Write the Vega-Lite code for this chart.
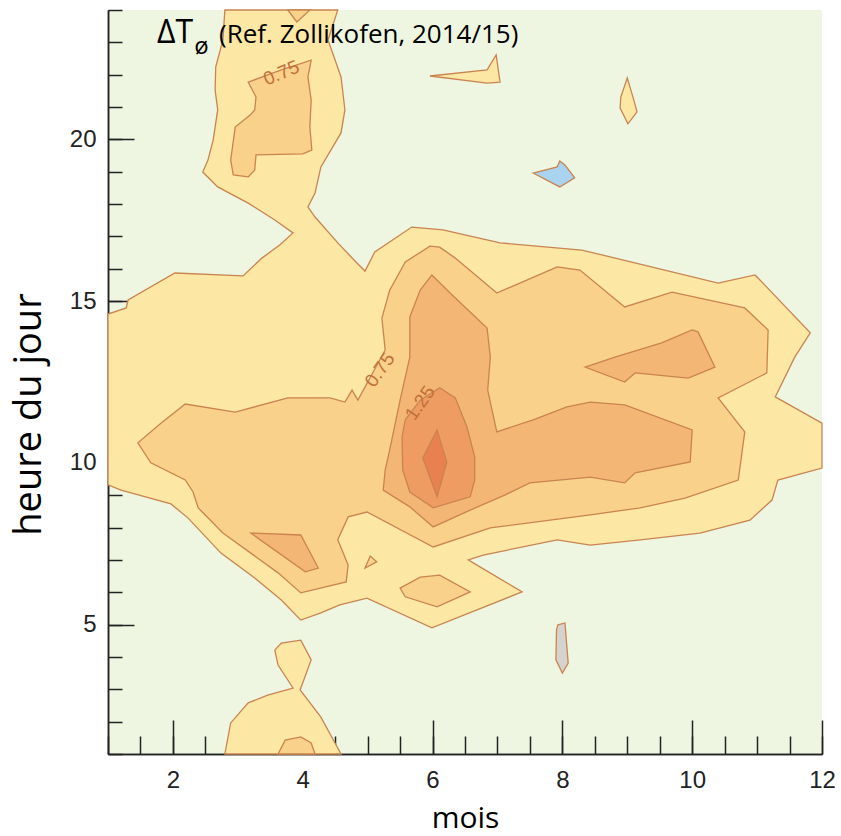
{
  "$schema": "https://vega.github.io/schema/vega-lite/v6.json",
  "width": 714,
  "height": 744,
  "autosize": {"type": "none"},
  "padding": {"left": 108, "top": 10, "right": 19, "bottom": 82},
  "background": "white",
  "config": {"view": {"fill": "#eef6e1", "stroke": null}},
  "resolve": {"axis": {"x": "independent", "y": "independent"}},
  "datasets": {
    "c": [
      {"p":"a1","lv":"a","i":0,"x":2.80,"y":24.0},
      {"p":"a1","lv":"a","i":1,"x":2.77,"y":23.07},
      {"p":"a1","lv":"a","i":2,"x":2.66,"y":22.24},
      {"p":"a1","lv":"a","i":3,"x":2.65,"y":21.53},
      {"p":"a1","lv":"a","i":4,"x":2.69,"y":20.91},
      {"p":"a1","lv":"a","i":5,"x":2.62,"y":19.98},
      {"p":"a1","lv":"a","i":6,"x":2.54,"y":19.36},
      {"p":"a1","lv":"a","i":7,"x":2.46,"y":18.99},
      {"p":"a1","lv":"a","i":8,"x":2.69,"y":18.53},
      {"p":"a1","lv":"a","i":9,"x":3.16,"y":18.03},
      {"p":"a1","lv":"a","i":10,"x":3.57,"y":17.51},
      {"p":"a1","lv":"a","i":11,"x":3.85,"y":17.11},
      {"p":"a1","lv":"a","i":12,"x":3.65,"y":16.74},
      {"p":"a1","lv":"a","i":13,"x":3.37,"y":16.33},
      {"p":"a1","lv":"a","i":14,"x":3.08,"y":15.78},
      {"p":"a1","lv":"a","i":15,"x":2.03,"y":15.87},
      {"p":"a1","lv":"a","i":16,"x":1.31,"y":15.04},
      {"p":"a1","lv":"a","i":17,"x":1.28,"y":14.79},
      {"p":"a1","lv":"a","i":18,"x":1.0,"y":14.60},
      {"p":"a1","lv":"a","i":19,"x":1.0,"y":9.32},
      {"p":"a1","lv":"a","i":20,"x":1.20,"y":9.16},
      {"p":"a1","lv":"a","i":21,"x":1.97,"y":8.73},
      {"p":"a1","lv":"a","i":22,"x":2.23,"y":8.30},
      {"p":"a1","lv":"a","i":23,"x":2.74,"y":7.21},
      {"p":"a1","lv":"a","i":24,"x":3.26,"y":6.44},
      {"p":"a1","lv":"a","i":25,"x":3.67,"y":5.76},
      {"p":"a1","lv":"a","i":26,"x":3.97,"y":5.14},
      {"p":"a1","lv":"a","i":27,"x":4.28,"y":5.36},
      {"p":"a1","lv":"a","i":28,"x":4.57,"y":5.61},
      {"p":"a1","lv":"a","i":29,"x":4.99,"y":5.82},
      {"p":"a1","lv":"a","i":30,"x":5.99,"y":4.90},
      {"p":"a1","lv":"a","i":31,"x":7.38,"y":6.01},
      {"p":"a1","lv":"a","i":32,"x":6.55,"y":7.00},
      {"p":"a1","lv":"a","i":33,"x":6.78,"y":7.15},
      {"p":"a1","lv":"a","i":34,"x":7.92,"y":7.62},
      {"p":"a1","lv":"a","i":35,"x":8.43,"y":7.46},
      {"p":"a1","lv":"a","i":36,"x":9.20,"y":7.62},
      {"p":"a1","lv":"a","i":37,"x":10.12,"y":7.83},
      {"p":"a1","lv":"a","i":38,"x":10.89,"y":8.23},
      {"p":"a1","lv":"a","i":39,"x":11.23,"y":8.85},
      {"p":"a1","lv":"a","i":40,"x":11.32,"y":9.47},
      {"p":"a1","lv":"a","i":41,"x":12.0,"y":9.84},
      {"p":"a1","lv":"a","i":42,"x":12.0,"y":11.23},
      {"p":"a1","lv":"a","i":43,"x":11.28,"y":12.04},
      {"p":"a1","lv":"a","i":44,"x":11.58,"y":13.27},
      {"p":"a1","lv":"a","i":45,"x":11.82,"y":14.02},
      {"p":"a1","lv":"a","i":46,"x":10.97,"y":15.81},
      {"p":"a1","lv":"a","i":47,"x":10.40,"y":15.56},
      {"p":"a1","lv":"a","i":48,"x":8.30,"y":16.58},
      {"p":"a1","lv":"a","i":49,"x":7.04,"y":16.80},
      {"p":"a1","lv":"a","i":50,"x":6.16,"y":17.20},
      {"p":"a1","lv":"a","i":51,"x":5.68,"y":17.29},
      {"p":"a1","lv":"a","i":52,"x":5.11,"y":16.52},
      {"p":"a1","lv":"a","i":53,"x":4.96,"y":15.93},
      {"p":"a1","lv":"a","i":54,"x":4.82,"y":16.21},
      {"p":"a1","lv":"a","i":55,"x":4.54,"y":16.80},
      {"p":"a1","lv":"a","i":56,"x":4.19,"y":17.60},
      {"p":"a1","lv":"a","i":57,"x":4.08,"y":17.91},
      {"p":"a1","lv":"a","i":58,"x":4.19,"y":18.34},
      {"p":"a1","lv":"a","i":59,"x":4.28,"y":19.15},
      {"p":"a1","lv":"a","i":60,"x":4.59,"y":20.20},
      {"p":"a1","lv":"a","i":61,"x":4.65,"y":20.91},
      {"p":"a1","lv":"a","i":62,"x":4.59,"y":21.93},
      {"p":"a1","lv":"a","i":63,"x":4.39,"y":23.07},
      {"p":"a1","lv":"a","i":64,"x":4.54,"y":24.0},
      {"p":"a2","lv":"a","i":0,"x":5.96,"y":21.96},
      {"p":"a2","lv":"a","i":1,"x":6.84,"y":22.15},
      {"p":"a2","lv":"a","i":2,"x":6.98,"y":22.61},
      {"p":"a2","lv":"a","i":3,"x":7.04,"y":21.77},
      {"p":"a2","lv":"a","i":4,"x":6.84,"y":21.74},
      {"p":"a3","lv":"a","i":0,"x":9.00,"y":21.90},
      {"p":"a3","lv":"a","i":1,"x":9.10,"y":21.22},
      {"p":"a3","lv":"a","i":2,"x":9.15,"y":20.85},
      {"p":"a3","lv":"a","i":3,"x":9.01,"y":20.48},
      {"p":"a3","lv":"a","i":4,"x":8.89,"y":20.97},
      {"p":"a3","lv":"a","i":5,"x":8.90,"y":21.31},
      {"p":"a4","lv":"a","i":0,"x":2.80,"y":1.0},
      {"p":"a4","lv":"a","i":1,"x":2.89,"y":1.96},
      {"p":"a4","lv":"a","i":2,"x":3.16,"y":2.58},
      {"p":"a4","lv":"a","i":3,"x":3.46,"y":2.82},
      {"p":"a4","lv":"a","i":4,"x":3.85,"y":3.04},
      {"p":"a4","lv":"a","i":5,"x":3.62,"y":3.75},
      {"p":"a4","lv":"a","i":6,"x":3.57,"y":4.21},
      {"p":"a4","lv":"a","i":7,"x":3.67,"y":4.43},
      {"p":"a4","lv":"a","i":8,"x":3.97,"y":4.52},
      {"p":"a4","lv":"a","i":9,"x":4.13,"y":3.91},
      {"p":"a4","lv":"a","i":10,"x":3.96,"y":2.98},
      {"p":"a4","lv":"a","i":11,"x":4.28,"y":2.14},
      {"p":"a4","lv":"a","i":12,"x":4.59,"y":1.0},
      {"p":"b1","lv":"b","i":0,"x":3.16,"y":21.77},
      {"p":"b1","lv":"b","i":1,"x":3.67,"y":22.15},
      {"p":"b1","lv":"b","i":2,"x":4.13,"y":22.45},
      {"p":"b1","lv":"b","i":3,"x":4.08,"y":21.93},
      {"p":"b1","lv":"b","i":4,"x":4.13,"y":21.22},
      {"p":"b1","lv":"b","i":5,"x":4.11,"y":20.38},
      {"p":"b1","lv":"b","i":6,"x":4.14,"y":19.67},
      {"p":"b1","lv":"b","i":7,"x":4.00,"y":19.55},
      {"p":"b1","lv":"b","i":8,"x":3.28,"y":19.52},
      {"p":"b1","lv":"b","i":9,"x":3.26,"y":19.05},
      {"p":"b1","lv":"b","i":10,"x":3.16,"y":18.84},
      {"p":"b1","lv":"b","i":11,"x":2.93,"y":18.90},
      {"p":"b1","lv":"b","i":12,"x":2.89,"y":19.36},
      {"p":"b1","lv":"b","i":13,"x":2.96,"y":20.38},
      {"p":"b1","lv":"b","i":14,"x":3.19,"y":20.75},
      {"p":"b1","lv":"b","i":15,"x":3.26,"y":20.91},
      {"p":"b1","lv":"b","i":16,"x":3.28,"y":21.31},
      {"p":"b2","lv":"b","i":0,"x":3.77,"y":24.0},
      {"p":"b2","lv":"b","i":1,"x":3.91,"y":23.63},
      {"p":"b2","lv":"b","i":2,"x":4.11,"y":24.0},
      {"p":"b3","lv":"b","i":0,"x":3.77,"y":12.01},
      {"p":"b3","lv":"b","i":1,"x":4.42,"y":12.01},
      {"p":"b3","lv":"b","i":2,"x":4.65,"y":11.88},
      {"p":"b3","lv":"b","i":3,"x":4.76,"y":12.25},
      {"p":"b3","lv":"b","i":4,"x":4.85,"y":11.94},
      {"p":"b3","lv":"b","i":5,"x":5.27,"y":13.49},
      {"p":"b3","lv":"b","i":6,"x":5.22,"y":14.48},
      {"p":"b3","lv":"b","i":7,"x":5.34,"y":15.34},
      {"p":"b3","lv":"b","i":8,"x":5.58,"y":16.21},
      {"p":"b3","lv":"b","i":9,"x":5.96,"y":16.70},
      {"p":"b3","lv":"b","i":10,"x":6.11,"y":16.67},
      {"p":"b3","lv":"b","i":11,"x":6.35,"y":16.33},
      {"p":"b3","lv":"b","i":12,"x":6.99,"y":15.25},
      {"p":"b3","lv":"b","i":13,"x":7.92,"y":16.06},
      {"p":"b3","lv":"b","i":14,"x":8.27,"y":15.96},
      {"p":"b3","lv":"b","i":15,"x":8.96,"y":14.82},
      {"p":"b3","lv":"b","i":16,"x":9.69,"y":15.28},
      {"p":"b3","lv":"b","i":17,"x":10.81,"y":14.79},
      {"p":"b3","lv":"b","i":18,"x":11.17,"y":14.11},
      {"p":"b3","lv":"b","i":19,"x":11.15,"y":12.78},
      {"p":"b3","lv":"b","i":20,"x":10.40,"y":12.01},
      {"p":"b3","lv":"b","i":21,"x":10.81,"y":10.96},
      {"p":"b3","lv":"b","i":22,"x":10.71,"y":9.47},
      {"p":"b3","lv":"b","i":23,"x":9.89,"y":8.91},
      {"p":"b3","lv":"b","i":24,"x":9.20,"y":8.61},
      {"p":"b3","lv":"b","i":25,"x":8.43,"y":8.39},
      {"p":"b3","lv":"b","i":26,"x":6.89,"y":7.99},
      {"p":"b3","lv":"b","i":27,"x":6.01,"y":7.40},
      {"p":"b3","lv":"b","i":28,"x":4.99,"y":8.48},
      {"p":"b3","lv":"b","i":29,"x":4.70,"y":8.33},
      {"p":"b3","lv":"b","i":30,"x":4.54,"y":7.62},
      {"p":"b3","lv":"b","i":31,"x":4.70,"y":6.84},
      {"p":"b3","lv":"b","i":32,"x":4.67,"y":6.32},
      {"p":"b3","lv":"b","i":33,"x":3.97,"y":5.98},
      {"p":"b3","lv":"b","i":34,"x":3.62,"y":6.60},
      {"p":"b3","lv":"b","i":35,"x":3.20,"y":7.21},
      {"p":"b3","lv":"b","i":36,"x":2.77,"y":7.83},
      {"p":"b3","lv":"b","i":37,"x":2.39,"y":8.61},
      {"p":"b3","lv":"b","i":38,"x":2.31,"y":9.10},
      {"p":"b3","lv":"b","i":39,"x":2.19,"y":9.47},
      {"p":"b3","lv":"b","i":40,"x":1.66,"y":10.00},
      {"p":"b3","lv":"b","i":41,"x":1.46,"y":10.62},
      {"p":"b3","lv":"b","i":42,"x":1.82,"y":11.23},
      {"p":"b3","lv":"b","i":43,"x":2.19,"y":11.82},
      {"p":"b3","lv":"b","i":44,"x":2.96,"y":11.57},
      {"p":"b4","lv":"b","i":0,"x":5.50,"y":6.13},
      {"p":"b4","lv":"b","i":1,"x":5.81,"y":6.47},
      {"p":"b4","lv":"b","i":2,"x":6.11,"y":6.53},
      {"p":"b4","lv":"b","i":3,"x":6.58,"y":6.01},
      {"p":"b4","lv":"b","i":4,"x":6.07,"y":5.55},
      {"p":"b4","lv":"b","i":5,"x":5.58,"y":5.86},
      {"p":"b5","lv":"b","i":0,"x":3.62,"y":1.0},
      {"p":"b5","lv":"b","i":1,"x":3.73,"y":1.43},
      {"p":"b5","lv":"b","i":2,"x":3.97,"y":1.53},
      {"p":"b5","lv":"b","i":3,"x":4.13,"y":1.34},
      {"p":"b5","lv":"b","i":4,"x":4.19,"y":1.0},
      {"p":"b6","lv":"b","i":0,"x":4.96,"y":6.75},
      {"p":"b6","lv":"b","i":1,"x":5.04,"y":7.12},
      {"p":"b6","lv":"b","i":2,"x":5.14,"y":6.94},
      {"p":"c1","lv":"c","i":0,"x":5.99,"y":15.81},
      {"p":"c1","lv":"c","i":1,"x":6.27,"y":15.25},
      {"p":"c1","lv":"c","i":2,"x":6.84,"y":14.17},
      {"p":"c1","lv":"c","i":3,"x":6.89,"y":13.27},
      {"p":"c1","lv":"c","i":4,"x":6.85,"y":12.25},
      {"p":"c1","lv":"c","i":5,"x":6.99,"y":10.96},
      {"p":"c1","lv":"c","i":6,"x":7.55,"y":11.33},
      {"p":"c1","lv":"c","i":7,"x":8.07,"y":11.73},
      {"p":"c1","lv":"c","i":8,"x":8.43,"y":11.88},
      {"p":"c1","lv":"c","i":9,"x":8.96,"y":11.79},
      {"p":"c1","lv":"c","i":10,"x":10.00,"y":11.02},
      {"p":"c1","lv":"c","i":11,"x":9.97,"y":10.03},
      {"p":"c1","lv":"c","i":12,"x":9.12,"y":9.69},
      {"p":"c1","lv":"c","i":13,"x":8.96,"y":9.38},
      {"p":"c1","lv":"c","i":14,"x":8.43,"y":9.56},
      {"p":"c1","lv":"c","i":15,"x":7.50,"y":9.38},
      {"p":"c1","lv":"c","i":16,"x":7.12,"y":9.01},
      {"p":"c1","lv":"c","i":17,"x":6.58,"y":8.54},
      {"p":"c1","lv":"c","i":18,"x":6.01,"y":8.02},
      {"p":"c1","lv":"c","i":19,"x":5.65,"y":8.64},
      {"p":"c1","lv":"c","i":20,"x":5.24,"y":9.16},
      {"p":"c1","lv":"c","i":21,"x":5.27,"y":9.78},
      {"p":"c1","lv":"c","i":22,"x":5.34,"y":10.40},
      {"p":"c1","lv":"c","i":23,"x":5.50,"y":11.94},
      {"p":"c1","lv":"c","i":24,"x":5.65,"y":13.27},
      {"p":"c1","lv":"c","i":25,"x":5.65,"y":14.51},
      {"p":"c1","lv":"c","i":26,"x":5.81,"y":15.34},
      {"p":"c2","lv":"c","i":0,"x":8.35,"y":12.96},
      {"p":"c2","lv":"c","i":1,"x":8.81,"y":13.27},
      {"p":"c2","lv":"c","i":2,"x":9.53,"y":13.71},
      {"p":"c2","lv":"c","i":3,"x":10.00,"y":14.11},
      {"p":"c2","lv":"c","i":4,"x":10.09,"y":14.05},
      {"p":"c2","lv":"c","i":5,"x":10.35,"y":12.96},
      {"p":"c2","lv":"c","i":6,"x":9.94,"y":12.62},
      {"p":"c2","lv":"c","i":7,"x":9.12,"y":12.78},
      {"p":"c2","lv":"c","i":8,"x":8.96,"y":12.50},
      {"p":"c3","lv":"c","i":0,"x":3.20,"y":7.83},
      {"p":"c3","lv":"c","i":1,"x":3.97,"y":7.77},
      {"p":"c3","lv":"c","i":2,"x":4.24,"y":6.75},
      {"p":"c3","lv":"c","i":3,"x":4.04,"y":6.63},
      {"p":"d1","lv":"d","i":0,"x":6.11,"y":12.32},
      {"p":"d1","lv":"d","i":1,"x":6.35,"y":12.01},
      {"p":"d1","lv":"d","i":2,"x":6.53,"y":11.11},
      {"p":"d1","lv":"d","i":3,"x":6.65,"y":10.18},
      {"p":"d1","lv":"d","i":4,"x":6.65,"y":9.47},
      {"p":"d1","lv":"d","i":5,"x":6.58,"y":8.95},
      {"p":"d1","lv":"d","i":6,"x":6.01,"y":8.61},
      {"p":"d1","lv":"d","i":7,"x":5.65,"y":9.10},
      {"p":"d1","lv":"d","i":8,"x":5.54,"y":9.78},
      {"p":"d1","lv":"d","i":9,"x":5.53,"y":10.80},
      {"p":"d1","lv":"d","i":10,"x":5.58,"y":11.33},
      {"p":"d1","lv":"d","i":11,"x":5.81,"y":11.94},
      {"p":"e1","lv":"e","i":0,"x":6.07,"y":11.02},
      {"p":"e1","lv":"e","i":1,"x":6.22,"y":10.03},
      {"p":"e1","lv":"e","i":2,"x":6.07,"y":8.95},
      {"p":"e1","lv":"e","i":3,"x":5.85,"y":10.15},
      {"p":"bl","lv":"blue","i":0,"x":7.55,"y":18.96},
      {"p":"bl","lv":"blue","i":1,"x":7.92,"y":19.15},
      {"p":"bl","lv":"blue","i":2,"x":7.96,"y":19.33},
      {"p":"bl","lv":"blue","i":3,"x":8.04,"y":19.21},
      {"p":"bl","lv":"blue","i":4,"x":8.19,"y":18.81},
      {"p":"bl","lv":"blue","i":5,"x":7.96,"y":18.53},
      {"p":"gr","lv":"gray","i":0,"x":7.93,"y":4.99},
      {"p":"gr","lv":"gray","i":1,"x":8.04,"y":5.05},
      {"p":"gr","lv":"gray","i":2,"x":8.09,"y":3.81},
      {"p":"gr","lv":"gray","i":3,"x":8.00,"y":3.50},
      {"p":"gr","lv":"gray","i":4,"x":7.90,"y":3.91},
      {"p":"gr","lv":"gray","i":5,"x":7.91,"y":4.84}
    ],
    "lab": [
      {"t":"0.75","k":"top","x":3.67,"y":22.05},
      {"t":"0.75","k":"mid","x":5.19,"y":12.87},
      {"t":"1.25","k":"mid2","x":5.81,"y":11.85}
    ],
    "ttl": [
      {"k":"T","t":"ΔT","x":1.755,"y":22.98},
      {"k":"o","t":"ø","x":2.33,"y":22.64},
      {"k":"r","t":"(Ref. Zollikofen, 2014/15)","x":2.71,"y":22.98}
    ]
  },
  "encoding": {
    "x": {"field": "x", "type": "quantitative", "scale": {"domain": [1, 12], "nice": false, "zero": false}, "axis": null},
    "y": {"field": "y", "type": "quantitative", "scale": {"domain": [1, 24], "nice": false, "zero": false}, "axis": null}
  },
  "layer": [
    {
      "data": {"name": "c"},
      "transform": [{"filter": "datum.lv === 'a'"}],
      "mark": {"type": "line", "filled": true, "interpolate": "linear-closed", "stroke": "#c98450", "strokeWidth": 1.3},
      "encoding": {
        "color": {"field": "lv", "type": "nominal", "legend": null,
          "scale": {"domain": ["a","b","c","d","e","blue","gray"], "range": ["#fce7a5","#f9d18a","#f4b674","#ee9c62","#e8804f","#a9d3ef","#d6d2cd"]}},
        "detail": {"field": "p"},
        "order": {"field": "i", "type": "quantitative"}
      }
    },
    {
      "data": {"name": "c"},
      "transform": [{"filter": "datum.lv === 'b'"}],
      "mark": {"type": "line", "filled": true, "interpolate": "linear-closed", "stroke": "#c98450", "strokeWidth": 1.3},
      "encoding": {
        "color": {"field": "lv", "type": "nominal", "legend": null},
        "detail": {"field": "p"},
        "order": {"field": "i", "type": "quantitative"}
      }
    },
    {
      "data": {"name": "c"},
      "transform": [{"filter": "datum.lv === 'c'"}],
      "mark": {"type": "line", "filled": true, "interpolate": "linear-closed", "stroke": "#c98450", "strokeWidth": 1.3},
      "encoding": {
        "color": {"field": "lv", "type": "nominal", "legend": null},
        "detail": {"field": "p"},
        "order": {"field": "i", "type": "quantitative"}
      }
    },
    {
      "data": {"name": "c"},
      "transform": [{"filter": "datum.lv === 'd'"}],
      "mark": {"type": "line", "filled": true, "interpolate": "linear-closed", "stroke": "#c98450", "strokeWidth": 1.3},
      "encoding": {
        "color": {"field": "lv", "type": "nominal", "legend": null},
        "detail": {"field": "p"},
        "order": {"field": "i", "type": "quantitative"}
      }
    },
    {
      "data": {"name": "c"},
      "transform": [{"filter": "datum.lv === 'e' || datum.lv === 'blue' || datum.lv === 'gray'"}],
      "mark": {"type": "line", "filled": true, "interpolate": "linear-closed", "stroke": "#c98450", "strokeWidth": 1.3},
      "encoding": {
        "color": {"field": "lv", "type": "nominal", "legend": null},
        "detail": {"field": "p"},
        "order": {"field": "i", "type": "quantitative"}
      }
    },
    {
      "data": {"name": "lab"},
      "transform": [{"filter": "datum.k === 'top'"}],
      "mark": {"type": "text", "angle": -23, "font": "Liberation Sans", "fontSize": 19, "color": "#c2703a"},
      "encoding": {
        "text": {"field": "t"},
        "x": {"field": "x", "type": "quantitative",
          "axis": {
            "orient": "bottom", "title": "mois",
            "values": [2, 4, 6, 8, 10, 12],
            "tickSize": -34, "labelPadding": 48,
            "labelFlush": false, "labelOverlap": false,
            "labelFont": "Liberation Sans", "labelFontSize": 24, "labelColor": "#222",
            "domainColor": "#222", "domainWidth": 1.5,
            "tickColor": "#222", "tickWidth": 1.5, "grid": false,
            "titleFont": "Open Sans", "titleFontSize": 30, "titleFontWeight": "normal", "titleColor": "#000",
            "titleBaseline": "alphabetic", "titleY": 73
          }
        },
        "y": {"field": "y", "type": "quantitative",
          "axis": {
            "orient": "left", "title": "heure du jour",
            "values": [5, 10, 15, 20],
            "tickSize": -26, "labelPadding": 38,
            "labelFlush": false, "labelOverlap": false,
            "labelFont": "Liberation Sans", "labelFontSize": 24, "labelColor": "#222",
            "domainColor": "#222", "domainWidth": 1.5,
            "tickColor": "#222", "tickWidth": 1.5, "grid": false,
            "titleFont": "Open Sans", "titleFontSize": 38, "titleFontWeight": "normal", "titleColor": "#000",
            "titleBaseline": "alphabetic", "titleX": -68, "titleY": 404, "titleAngle": -90, "titleAlign": "center"
          }
        }
      }
    },
    {
      "data": {"name": "lab"},
      "transform": [{"filter": "datum.k !== 'top'"}],
      "mark": {"type": "text", "angle": -55, "font": "Liberation Sans", "fontSize": 19, "color": "#c2703a"},
      "encoding": {
        "text": {"field": "t"},
        "x": {"field": "x", "type": "quantitative",
          "axis": {
            "orient": "bottom", "title": null, "labels": false,
            "values": [1,1.5,2,2.5,3,3.5,4,4.5,5,5.5,6,6.5,7,7.5,8,8.5,9,9.5,10,10.5,11,11.5,12],
            "tickSize": -18, "domainColor": "#222", "domainWidth": 1.5,
            "tickColor": "#222", "tickWidth": 1.5, "grid": false
          }
        },
        "y": {"field": "y", "type": "quantitative",
          "axis": {
            "orient": "left", "title": null, "labels": false,
            "values": [1,2,3,4,5,6,7,8,9,10,11,12,13,14,15,16,17,18,19,20,21,22,23,24],
            "tickSize": -14, "domainColor": "#222", "domainWidth": 1.5,
            "tickColor": "#222", "tickWidth": 1.5, "grid": false
          }
        }
      }
    },
    {
      "data": {"name": "ttl"},
      "transform": [{"filter": "datum.k === 'T'"}],
      "mark": {"type": "text", "align": "left", "baseline": "alphabetic", "font": "Open Sans", "fontSize": 32, "color": "#000"},
      "encoding": {"text": {"field": "t"}}
    },
    {
      "data": {"name": "ttl"},
      "transform": [{"filter": "datum.k === 'o'"}],
      "mark": {"type": "text", "align": "left", "baseline": "alphabetic", "font": "Open Sans", "fontSize": 24, "color": "#000"},
      "encoding": {"text": {"field": "t"}}
    },
    {
      "data": {"name": "ttl"},
      "transform": [{"filter": "datum.k === 'r'"}],
      "mark": {"type": "text", "align": "left", "baseline": "alphabetic", "font": "Open Sans", "fontSize": 26, "color": "#000"},
      "encoding": {"text": {"field": "t"}}
    }
  ]
}
